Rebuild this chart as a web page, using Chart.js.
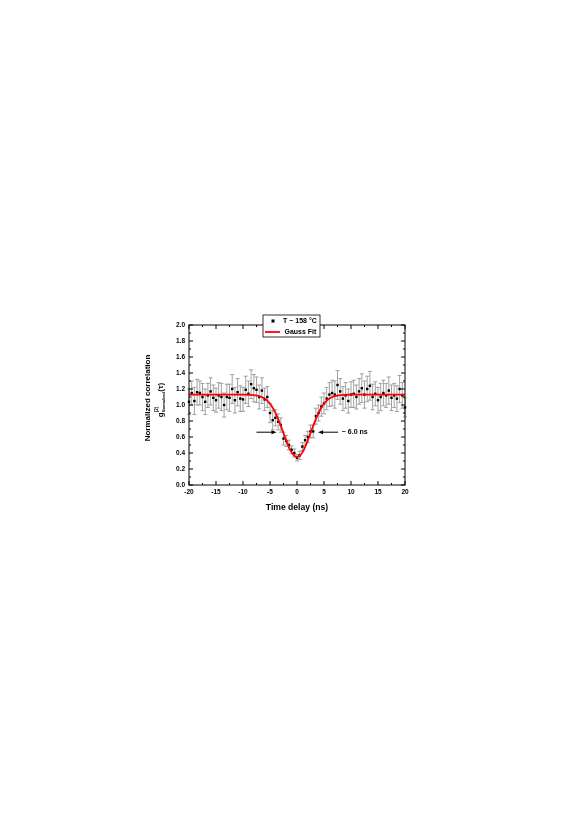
<!DOCTYPE html>
<html>
<head>
<meta charset="utf-8">
<script src="https://cdn.jsdelivr.net/npm/chart.js@4.4.0/dist/chart.umd.min.js"></script>
<style>
  html, body { margin: 0; padding: 0; background: #fff; }
</style>
</head>
<body>
<canvas id="corrcanvas" width="581" height="822"></canvas>
<script>
// measured points (time delay in ns), g2 values and their error bars
var delays = [-20,-19.5,-19,-18.5,-18,-17.5,-17,-16.5,-16,-15.5,-15,-14.5,-14,-13.5,-13,-12.5,-12,-11.5,-11,-10.5,
  -10,-9.5,-9,-8.5,-8,-7.5,-7,-6.5,-6,-5.5,-5,-4.5,-4,-3.5,-3,-2.5,-2,-1.5,-1,-0.5,
  0,0.5,1,1.5,2,2.5,3,3.5,4,4.5,5,5.5,6,6.5,7,7.5,8,8.5,9,9.5,
  10,10.5,11,11.5,12,12.5,13,13.5,14,14.5,15,15.5,16,16.5,17,17.5,18,18.5,19,19.5,20];
var g2 = [1.04,1.15,1.05,1.16,1.15,1.10,1.04,1.12,1.17,1.09,1.06,1.12,1.10,1.00,1.10,1.09,1.20,1.06,1.16,1.08,
  1.07,1.19,1.14,1.26,1.21,1.19,1.10,1.18,1.07,1.10,0.90,0.81,0.84,0.79,0.75,0.58,0.55,0.50,0.44,0.40,
  0.34,0.37,0.48,0.56,0.60,0.67,0.67,0.86,0.90,0.98,1.02,1.08,1.13,1.15,1.13,1.25,1.17,1.08,1.12,1.05,
  1.13,1.14,1.10,1.17,1.21,1.13,1.20,1.24,1.10,1.14,1.06,1.10,1.15,1.12,1.18,1.09,1.12,1.08,1.20,1.12,0.97];
var g2err = [0.16,0.15,0.17,0.16,0.15,0.17,0.16,0.15,0.17,0.16,0.15,0.16,0.17,0.15,0.16,0.17,0.18,0.16,0.17,0.16,
  0.15,0.17,0.16,0.18,0.17,0.16,0.15,0.16,0.14,0.13,0.12,0.12,0.10,0.10,0.09,0.08,0.07,0.06,0.05,0.05,
  0.04,0.05,0.05,0.06,0.07,0.08,0.08,0.10,0.10,0.12,0.13,0.14,0.15,0.16,0.17,0.18,0.16,0.15,0.16,0.15,
  0.16,0.17,0.15,0.16,0.18,0.17,0.16,0.18,0.16,0.15,0.16,0.17,0.16,0.15,0.17,0.16,0.15,0.16,0.17,0.16,0.12];

// gauss fit curve
var fitDelays = [-20,-10,-9,-8,-7,-6.5,-6,-5.5,-5,-4.5,-4,-3.5,-3,-2.5,-2,-1.5,-1,-0.5,0,
  0.5,1,1.5,2,2.5,3,3.5,4,4.5,5,5.5,6,6.5,7,8,9,10,20];
var fitValues = [1.13,1.13,1.128,1.124,1.112,1.10,1.081,1.054,1.016,0.966,0.902,0.826,0.74,0.648,0.557,0.474,0.408,0.365,0.35,
  0.365,0.408,0.474,0.557,0.648,0.74,0.826,0.902,0.966,1.016,1.054,1.081,1.10,1.112,1.124,1.128,1.13,1.13];

var xTicks = [-20,-15,-10,-5,0,5,10,15,20];
var yTicks = [0,0.2,0.4,0.6,0.8,1.0,1.2,1.4,1.6,1.8,2.0];

var pointLabel = 'T ~ 158 °C';
var fitLabel = 'Gauss Fit';
var widthLabel = '~ 6.0 ns';

var fontFam = 'Arial, "Liberation Sans", sans-serif';

var extras = {
  id: 'extras',
  beforeDatasetsDraw: function(chart) {
    // error bars
    var ctx = chart.ctx, xs = chart.scales.x, ys = chart.scales.y;
    ctx.save();
    ctx.strokeStyle = '#8c8c8c';
    ctx.lineWidth = 0.8;
    for (var i = 0; i < delays.length; i++) {
      var px = xs.getPixelForValue(delays[i]);
      var hi = ys.getPixelForValue(g2[i] + g2err[i]);
      var lo = ys.getPixelForValue(g2[i] - g2err[i]);
      ctx.beginPath();
      ctx.moveTo(px, hi); ctx.lineTo(px, lo);
      ctx.moveTo(px - 2, hi); ctx.lineTo(px + 2, hi);
      ctx.moveTo(px - 2, lo); ctx.lineTo(px + 2, lo);
      ctx.stroke();
    }
    ctx.restore();
  },
  afterDraw: function(chart) {
    var ctx = chart.ctx, xs = chart.scales.x, ys = chart.scales.y, a = chart.chartArea;
    ctx.save();
    // frame
    ctx.strokeStyle = '#000';
    ctx.lineWidth = 1;
    ctx.strokeRect(a.left, a.top, a.right - a.left, a.bottom - a.top);

    // inner ticks, major and minor
    ctx.beginPath();
    for (var i = 0; i < xTicks.length; i++) {
      var px = xs.getPixelForValue(xTicks[i]);
      ctx.moveTo(px, a.bottom); ctx.lineTo(px, a.bottom - 4);
      ctx.moveTo(px, a.top); ctx.lineTo(px, a.top + 4);
      if (i < xTicks.length - 1) {
        var mx = xs.getPixelForValue((xTicks[i] + xTicks[i + 1]) / 2);
        ctx.moveTo(mx, a.bottom); ctx.lineTo(mx, a.bottom - 2);
        ctx.moveTo(mx, a.top); ctx.lineTo(mx, a.top + 2);
      }
    }
    for (var j = 0; j < yTicks.length; j++) {
      var py = ys.getPixelForValue(yTicks[j]);
      ctx.moveTo(a.left, py); ctx.lineTo(a.left + 4, py);
      ctx.moveTo(a.right, py); ctx.lineTo(a.right - 4, py);
      if (j < yTicks.length - 1) {
        var my = ys.getPixelForValue((yTicks[j] + yTicks[j + 1]) / 2);
        ctx.moveTo(a.left, my); ctx.lineTo(a.left + 2, my);
        ctx.moveTo(a.right, my); ctx.lineTo(a.right - 2, my);
      }
    }
    ctx.stroke();

    // x title
    ctx.fillStyle = '#000';
    ctx.font = 'bold 8.6px ' + fontFam;
    ctx.textAlign = 'center';
    ctx.textBaseline = 'middle';
    ctx.fillText('Time delay (ns)', (a.left + a.right) / 2, 508);

    // y title, two lines
    ctx.save();
    ctx.translate(148, 398);
    ctx.rotate(-Math.PI / 2);
    ctx.font = 'bold 8px ' + fontFam;
    ctx.fillText('Normalized correlation', 0, 0);
    ctx.restore();

    ctx.save();
    ctx.translate(160, 400);
    ctx.rotate(-Math.PI / 2);
    ctx.textAlign = 'left';
    ctx.textBaseline = 'alphabetic';
    var f1 = 'bold 8px ' + fontFam, f2 = 'bold 4.5px ' + fontFam, f3 = 'bold 3.8px ' + fontFam;
    ctx.font = f1; var wg = ctx.measureText('g').width;
    ctx.font = f2; var ws = ctx.measureText('(2)').width;
    ctx.font = f3; var wsub = ctx.measureText('Normalized').width;
    ctx.font = f1; var wt = ctx.measureText('(τ)').width;
    var total = wg + Math.max(ws, wsub) + wt;
    var x0 = -total / 2, base = 2.5;
    ctx.font = f1; ctx.fillText('g', x0, base);
    ctx.font = f2; ctx.fillText('(2)', x0 + wg, base - 5);
    ctx.font = f3; ctx.fillText('Normalized', x0 + wg, base + 2);
    ctx.font = f1; ctx.fillText('(τ)', x0 + wg + Math.max(ws, wsub), base);
    ctx.restore();

    // width annotation arrows
    var ay = ys.getPixelForValue(0.66);
    var arrows = [[-7.5, -3.8], [7.6, 3.9]];
    ctx.lineWidth = 1;
    arrows.forEach(function(ar) {
      var p0 = xs.getPixelForValue(ar[0]), p1 = xs.getPixelForValue(ar[1]);
      var dir = p1 > p0 ? 1 : -1;
      ctx.beginPath();
      ctx.moveTo(p0, ay); ctx.lineTo(p1 - dir * 3, ay);
      ctx.stroke();
      ctx.beginPath();
      ctx.moveTo(p1, ay);
      ctx.lineTo(p1 - dir * 5, ay - 2);
      ctx.lineTo(p1 - dir * 5, ay + 2);
      ctx.closePath();
      ctx.fill();
    });
    ctx.font = 'bold 7px ' + fontFam;
    ctx.textAlign = 'left';
    ctx.textBaseline = 'middle';
    ctx.fillText(widthLabel, xs.getPixelForValue(8.3), ay);

    // legend box, sitting over the top edge
    ctx.fillStyle = '#fff';
    ctx.fillRect(263, 315, 57, 22);
    ctx.strokeStyle = '#000';
    ctx.lineWidth = 0.8;
    ctx.strokeRect(263, 315, 57, 22);
    ctx.fillStyle = '#000';
    ctx.fillRect(271.5, 319.5, 3, 3);
    ctx.strokeStyle = '#ff0000';
    ctx.lineWidth = 1.8;
    ctx.beginPath();
    ctx.moveTo(265, 332); ctx.lineTo(280, 332);
    ctx.stroke();
    ctx.fillStyle = '#000';
    ctx.font = 'bold 7px ' + fontFam;
    ctx.fillText(pointLabel, 283, 321);
    ctx.fillText(fitLabel, 284.5, 332);
    ctx.restore();
  }
};

var ctx = document.getElementById('corrcanvas');
var corrChart = new Chart(ctx, {
  type: 'scatter',
  data: {
    datasets: [
      {
        label: fitLabel,
        data: fitDelays.map(function(d, i) { return { x: d, y: fitValues[i] }; }),
        showLine: true,
        borderColor: '#ff0000',
        borderWidth: 1.8,
        pointRadius: 0,
        cubicInterpolationMode: 'monotone',
        order: 0
      },
      {
        label: pointLabel,
        data: delays.map(function(d, i) { return { x: d, y: g2[i] }; }),
        showLine: false,
        pointStyle: 'rect',
        pointRadius: 1.7,
        backgroundColor: '#000',
        borderColor: '#000',
        borderWidth: 0,
        clip: 4,
        order: 1
      }
    ]
  },
  options: {
    responsive: false,
    animation: false,
    devicePixelRatio: 1,
    layout: { padding: { left: 149, right: 176, top: 325, bottom: 297 } },
    plugins: { legend: { display: false }, tooltip: { enabled: false } },
    scales: {
      x: {
        type: 'linear',
        min: -20, max: 20,
        grid: { display: false, drawTicks: false },
        border: { display: false },
        ticks: {
          stepSize: 5,
          padding: 3,
          color: '#000',
          font: { family: fontFam, size: 6.5, weight: 'bold' },
          callback: function(v) { return v; }
        },
        afterFit: function(s) { s.height = 40; s.paddingLeft = 0; s.paddingRight = 0; }
      },
      y: {
        min: 0, max: 2,
        grid: { display: false, drawTicks: false },
        border: { display: false },
        ticks: {
          stepSize: 0.2,
          padding: 4,
          color: '#000',
          font: { family: fontFam, size: 6.5, weight: 'bold' },
          callback: function(v) { return v.toFixed(1); }
        },
        afterFit: function(s) { s.width = 40; s.paddingTop = 0; s.paddingBottom = 0; }
      }
    }
  },
  plugins: [extras]
});
</script>
</body>
</html>
